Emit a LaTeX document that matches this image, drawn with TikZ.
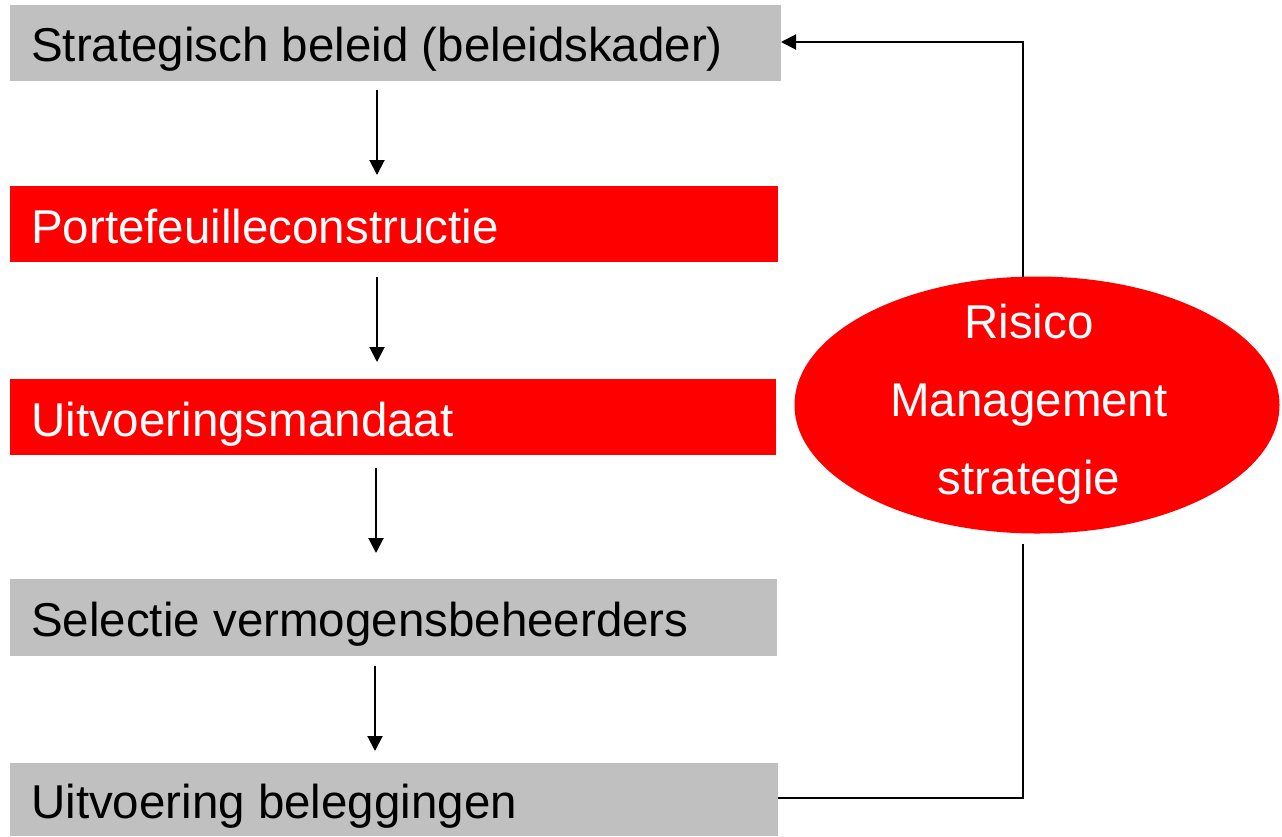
\documentclass[tikz,border=0pt]{standalone}
\usepackage{fontspec}
\setmainfont{Liberation Sans}
\usetikzlibrary{arrows.meta,shapes.geometric}
\definecolor{boxgray}{RGB}{192,192,192}
\definecolor{boxred}{RGB}{255,0,0}
\begin{document}
\begin{tikzpicture}[x=1pt,y=-1pt,
  lbl/.style={anchor=base west,inner sep=0pt,font=\fontsize{47.5}{57}\selectfont},
  elbl/.style={anchor=base,inner sep=0pt,text=white,font=\fontsize{47.5}{57}\selectfont},
  arr/.style={line width=2pt,-{Triangle[width=15pt,length=15pt]}},
  ln/.style={line width=2pt}]
\useasboundingbox (0,0) rectangle (1282,836);
\fill[boxgray] (10,5) rectangle (781,81);
\fill[boxred] (10,186) rectangle (778,262);
\fill[boxred] (10,379) rectangle (776,455);
\fill[boxgray] (10,579) rectangle (777,656);
\fill[boxgray] (10,763) rectangle (778,836);
\node[lbl] (t1) at (31,61) {Strategisch beleid (beleidskader)};
\node[lbl,text=white] (t2) at (31,243) {Portefeuilleconstructie};
\node[lbl,text=white] (t3) at (31,436) {Uitvoeringsmandaat};
\node[lbl] (t4) at (31,636) {Selectie vermogensbeheerders};
\node[lbl] (t5) at (31,818) {Uitvoering beleggingen};
\coordinate (b1r) at (781,42);
\coordinate (b5r) at (778,798);
\coordinate (a1s) at (377,90);  \coordinate (a1e) at (377,175);
\coordinate (a2s) at (377,277); \coordinate (a2e) at (377,362);
\coordinate (a3s) at (376,468); \coordinate (a3e) at (376,553);
\coordinate (a4s) at (375,666); \coordinate (a4e) at (375,751);
\draw[arr] (a1s) -- (a1e);
\draw[arr] (a2s) -- (a2e);
\draw[arr] (a3s) -- (a3e);
\draw[arr] (a4s) -- (a4e);
\node[ellipse,fill=boxred,minimum width=485pt,minimum height=257pt,inner sep=0pt] (ell) at (1037,405) {};
\node[elbl] (e1) at (1029,338) {Risico};
\node[elbl] (e2) at (1029,416) {Management};
\node[elbl] (e3) at (1029,494) {strategie};
\coordinate (c1) at (1023,277);
\coordinate (c2) at (1023,544);
\draw[ln] (b5r) -- (1023,798) -- (c2);
\draw[arr] (c1) -- (1023,42) -- (b1r);
\end{tikzpicture}
\end{document}
